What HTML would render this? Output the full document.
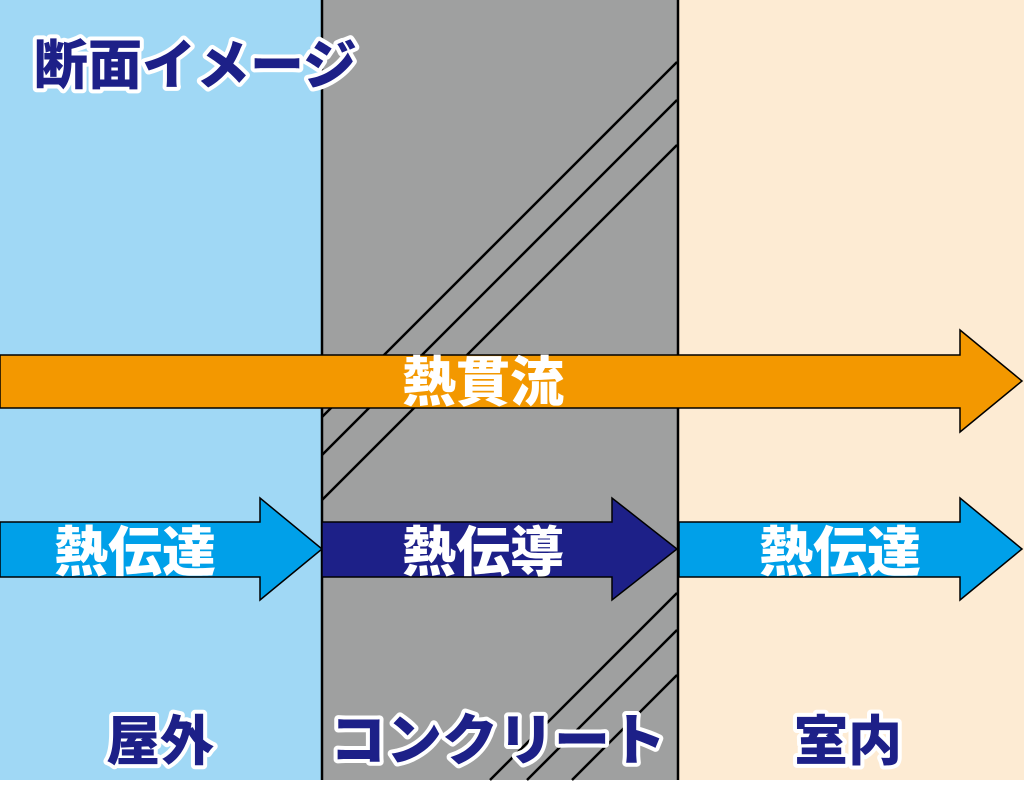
<!DOCTYPE html>
<html><head><meta charset="utf-8"><style>
html,body{margin:0;padding:0;background:#fff;}
svg{display:block;}
text{font-family:"Liberation Sans","Noto Sans CJK JP",sans-serif;font-weight:900;}
</style></head><body>
<svg width="1024" height="790" viewBox="0 0 1024 790" xmlns="http://www.w3.org/2000/svg">
<rect x="0" y="0" width="1024" height="790" fill="#fff"/>
<rect x="0" y="0" width="322" height="780" fill="#a0d8f5"/>
<rect x="322" y="0" width="356" height="780" fill="#9fa0a0"/>
<rect x="678" y="0" width="346" height="780" fill="#fdebd3"/>
<g stroke="#000" stroke-width="2.5">
<line x1="677" y1="62" x2="322" y2="417"/>
<line x1="677" y1="100" x2="322" y2="455"/>
<line x1="677" y1="145" x2="322" y2="500"/>
<line x1="677" y1="593" x2="490" y2="780"/>
<line x1="677" y1="630" x2="527" y2="780"/>
<line x1="677" y1="675" x2="572" y2="780"/>
<line x1="322" y1="0" x2="322" y2="780"/>
<line x1="678" y1="0" x2="678" y2="780"/>
</g>
<g stroke="#000" stroke-width="1.5" stroke-linejoin="miter">
<polygon points="0,355 960,355 960,330 1022,381 960,432 960,408 0,408" fill="#f39800"/>
<polygon points="0,522 260,522 260,498 322,549 260,600 260,577 0,577" fill="#00a0e9"/>
<polygon points="322,522 612,522 612,498 677,549 612,600 612,577 322,577" fill="#1d2088"/>
<polygon points="679,522 960,522 960,498 1022,549 960,600 960,577 679,577" fill="#00a0e9"/>
</g>
<g fill="#fff" font-size="54" text-anchor="middle">
<text x="483" y="401">熱貫流</text>
<text x="135" y="571">熱伝達</text>
<text x="483" y="571">熱伝導</text>
<text x="840" y="571">熱伝達</text>
</g>
<g fill="#1d2088" stroke="#fff" stroke-width="8" paint-order="stroke" stroke-linejoin="round">
<text x="34" y="84" font-size="54">断面イメージ</text>
<text x="160" y="760" font-size="54" text-anchor="middle">屋外</text>
<text x="498" y="760" font-size="56" text-anchor="middle">コンクリート</text>
<text x="848" y="760" font-size="54" text-anchor="middle">室内</text>
</g>
</svg>
</body></html>
